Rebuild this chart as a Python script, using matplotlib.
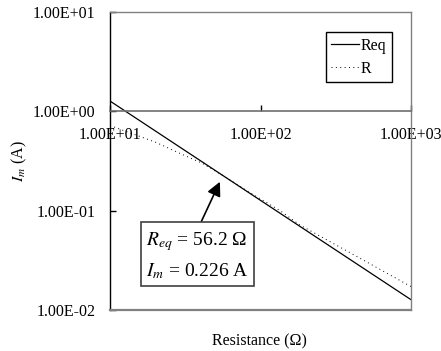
import matplotlib
matplotlib.use("Agg")
import matplotlib.pyplot as plt
from matplotlib.ticker import FixedLocator, FixedFormatter, NullLocator
from matplotlib.lines import Line2D

# Equivalent resistance curve (solid)
req_r = [10, 20, 56.2, 100, 200, 500, 1000]
req_i = [1.27, 0.635, 0.226, 0.127, 0.0635, 0.0254, 0.0127]

# Plain resistance curve (dotted)
r_r = [10, 20, 30, 41, 56.2, 85, 135, 183, 394, 1000]
r_i = [0.72, 0.49, 0.37, 0.30, 0.226, 0.152, 0.100, 0.0716, 0.0377, 0.0172]

x_ticks = [10, 100, 1000]
x_tick_labels = ["1.00E+01", "1.00E+02", "1.00E+03"]
y_ticks = [0.01, 0.1, 1, 10]
y_tick_labels = ["1.00E-02", "1.00E-01", "1.00E+00", "1.00E+01"]

point_r = 56.2
point_i = 0.226

plt.rcParams["font.family"] = ["Liberation Serif", "DejaVu Serif"]
plt.rcParams["mathtext.fontset"] = "stix"

W, H = 441, 351
fig = plt.figure(figsize=(W / 100, H / 100), dpi=100)
ax = fig.add_axes([110 / W, 1 - 310 / H, 301 / W, 298 / H])

dot_style = (0, (1, 3.5))
ax.plot(req_r, req_i, color="black", lw=0.9, label="Req")
ax.plot(r_r, r_i, color="black", lw=0.7, linestyle=dot_style, label="R")

ax.set_xscale("log")
ax.set_yscale("log")
ax.set_xlim(10, 1000)
ax.set_ylim(0.01, 10)

ax.xaxis.set_major_locator(FixedLocator(x_ticks))
ax.xaxis.set_major_formatter(FixedFormatter(x_tick_labels))
ax.yaxis.set_major_locator(FixedLocator(y_ticks))
ax.yaxis.set_major_formatter(FixedFormatter(y_tick_labels))
ax.xaxis.set_minor_locator(NullLocator())
ax.yaxis.set_minor_locator(NullLocator())

grey = "#808080"
ax.spines["left"].set_color("black")
ax.spines["left"].set_linewidth(1.0)
ax.spines["bottom"].set_position(("data", 1))
ax.spines["bottom"].set_color("#6e6e6e")
ax.spines["bottom"].set_linewidth(1.2)
for s in ("top", "right"):
    ax.spines[s].set_color(grey)
    ax.spines[s].set_linewidth(1.0)
ax.axhline(0.01, color=grey, lw=1.6, clip_on=False, zorder=3)

ax.tick_params(axis="x", direction="in", length=4, width=1, color="black",
               labelsize=11.5, pad=11)
ax.tick_params(axis="y", direction="in", length=4, width=1, color="black",
               labelsize=11.5, pad=10.5)

ax.set_xlabel("Resistance (Ω)", fontsize=11.5)
ax.xaxis.set_label_coords(0.495, -0.08)
ax.set_ylabel(r"$I_m$ (A)", fontsize=11.5)
ax.yaxis.set_label_coords(-0.27, 0.5)

handles = [Line2D([], [], color="black", lw=0.9),
           Line2D([], [], color="black", lw=0.7, linestyle=dot_style)]
leg = ax.legend(handles, ["Req", "R"], loc="upper right",
                bbox_to_anchor=(0.937, 0.933), borderaxespad=0,
                fancybox=False, edgecolor="black", framealpha=1,
                fontsize=11.5, handlelength=1.75, handletextpad=0.1,
                labelspacing=0.45, borderpad=0.35)
leg.get_frame().set_linewidth(1.0)

ax.annotate(r"$R_{eq}$ = 56.2 Ω" + "\n" + r"$I_m$ = 0.226 A",
            xy=(point_r, point_i), xycoords="data",
            xytext=(197.5, H - 255.5), textcoords="figure pixels",
            ha="center", va="center", multialignment="left",
            fontsize=14, linespacing=1.6,
            bbox=dict(boxstyle="square,pad=0.25", fc="white", ec="#404040", lw=1.2),
            arrowprops=dict(arrowstyle="-|>,head_length=0.6,head_width=0.3",
                            color="black", lw=1.2, shrinkA=0, shrinkB=5,
                            mutation_scale=14, relpos=(0.5, 1)))

fig.savefig("out.png", dpi=100)
